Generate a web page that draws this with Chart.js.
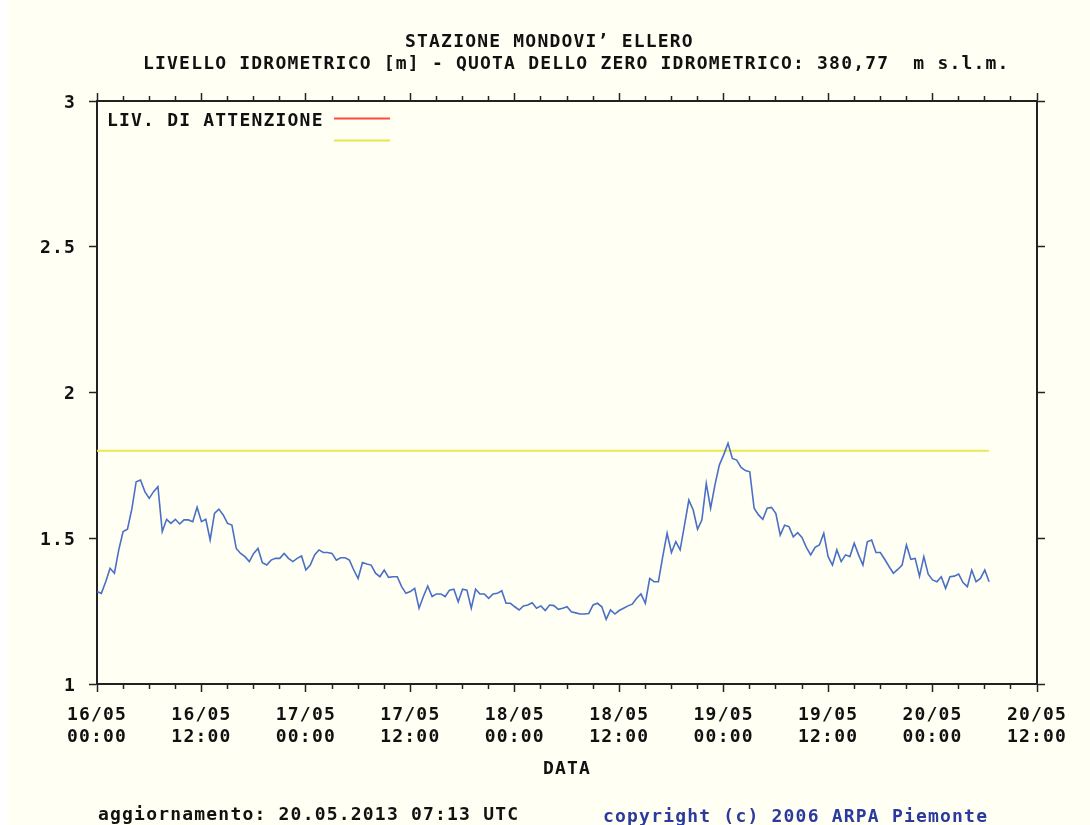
<!DOCTYPE html>
<html>
<head>
<meta charset="utf-8">
<title>STAZIONE MONDOVI’ ELLERO</title>
<script src="https://cdn.jsdelivr.net/npm/chart.js@4/dist/chart.umd.min.js"></script>
<style>
  html, body { margin: 0; padding: 0; background: #ffffff; }
  canvas { display: block; }
</style>
</head>
<body>
<canvas id="chart" width="1090" height="825"></canvas>
<script>
// Water level (m) sampled every 30 minutes, one array per day
const level16May = [
  1.317, 1.311, 1.351, 1.397, 1.380, 1.460, 1.523, 1.531, 1.600, 1.694,
  1.700, 1.660, 1.637, 1.660, 1.677, 1.523, 1.565, 1.551, 1.565, 1.549,
  1.563, 1.563, 1.557, 1.606, 1.557, 1.565, 1.494, 1.585, 1.600, 1.580,
  1.551, 1.545, 1.465, 1.448, 1.437, 1.420, 1.448, 1.465, 1.416, 1.408,
  1.425, 1.431, 1.431, 1.448, 1.431, 1.420, 1.431, 1.439
];
const level17May = [
  1.391, 1.408, 1.443, 1.460, 1.451, 1.451, 1.448, 1.425, 1.433, 1.433,
  1.425, 1.391, 1.362, 1.417, 1.412, 1.408, 1.380, 1.368, 1.391, 1.366,
  1.368, 1.368, 1.334, 1.311, 1.317, 1.328, 1.260, 1.300, 1.336, 1.300,
  1.309, 1.309, 1.300, 1.322, 1.325, 1.282, 1.325, 1.322, 1.260, 1.325,
  1.309, 1.309, 1.294, 1.309, 1.311, 1.320, 1.277, 1.277
];
const level18May = [
  1.265, 1.254, 1.268, 1.271, 1.279, 1.260, 1.268, 1.252, 1.271, 1.269,
  1.256, 1.260, 1.265, 1.248, 1.244, 1.240, 1.240, 1.242, 1.271, 1.277,
  1.265, 1.222, 1.254, 1.240, 1.252, 1.260, 1.268, 1.274, 1.294, 1.309,
  1.277, 1.362, 1.351, 1.351, 1.437, 1.517, 1.451, 1.488, 1.460, 1.545,
  1.631, 1.597, 1.531, 1.563, 1.688, 1.603, 1.683, 1.751
];
const level19May = [
  1.786, 1.826, 1.774, 1.768, 1.743, 1.732, 1.728, 1.603, 1.580, 1.565,
  1.603, 1.606, 1.585, 1.511, 1.545, 1.540, 1.505, 1.519, 1.503, 1.469,
  1.443, 1.469, 1.477, 1.517, 1.437, 1.408, 1.460, 1.420, 1.443, 1.437,
  1.483, 1.443, 1.408, 1.488, 1.494, 1.451, 1.451, 1.428, 1.403, 1.380,
  1.393, 1.408, 1.477, 1.428, 1.431, 1.370, 1.437, 1.377
];
const level20May = [
  1.357, 1.351, 1.368, 1.328, 1.368, 1.370, 1.377, 1.348, 1.334, 1.391,
  1.351, 1.362, 1.391, 1.351
];

// Threshold drawn across the record
const thresholdLevel = 1.80;
const thresholdSpan = [0, 102.5];      // hours from 16/05 00:00

// Axis ticks
const tickDays  = ['16/05', '16/05', '17/05', '17/05', '18/05', '18/05', '19/05', '19/05', '20/05', '20/05'];
const tickTimes = ['00:00', '12:00', '00:00', '12:00', '00:00', '12:00', '00:00', '12:00', '00:00', '12:00'];
const yTickLabels = { 1: '1', 1.5: '1.5', 2: '2', 2.5: '2.5', 3: '3' };

const SAMPLE_HOURS = 0.5;
const FONT_FAMILY = '"DejaVu Sans Mono", "Liberation Mono", monospace';
const CREAM = '#fffff3';
const INK = '#111111';
const AXIS = '#222222';

const levels = [].concat(level16May, level17May, level18May, level19May, level20May);
const levelPoints = levels.map((v, i) => ({ x: i * SAMPLE_HOURS, y: v }));
const thresholdPoints = thresholdSpan.map(h => ({ x: h, y: thresholdLevel }));

const labelFont = { family: FONT_FAMILY, size: 18, weight: 'bold', lineHeight: 22 / 18 };

function isMajor(v) { return Math.abs(v % 12) < 1e-6; }

const gridCommon = {
  display: true,
  drawOnChartArea: false,
  drawTicks: true,
  tickLength: 8,
  tickColor: AXIS,
  tickWidth: 1.5
};
const borderCommon = { display: true, color: AXIS, width: 2 };

const decor = {
  id: 'decor',
  beforeDraw(chart) {
    const ctx = chart.ctx;
    ctx.save();
    ctx.fillStyle = '#ffffff';
    ctx.fillRect(0, 0, chart.width, chart.height);
    ctx.fillStyle = CREAM;
    ctx.fillRect(7, 0, chart.width - 7, chart.height);
    ctx.restore();
    ctx.letterSpacing = '1.2px';
  },
  afterDraw(chart) {
    const ctx = chart.ctx;
    ctx.save();
    ctx.letterSpacing = '1.2px';
    ctx.font = 'bold 18px ' + FONT_FAMILY;
    ctx.textAlign = 'left';
    ctx.textBaseline = 'alphabetic';
    ctx.fillStyle = INK;
    // heading
    ctx.fillText('STAZIONE MONDOVI’ ELLERO', 405, 47);
    ctx.fillText('LIVELLO IDROMETRICO [m] - QUOTA DELLO ZERO IDROMETRICO: 380,77  m s.l.m.', 143, 68.5);
    // legend
    ctx.fillText('LIV. DI ATTENZIONE', 107, 126);
    ctx.lineWidth = 2;
    ctx.strokeStyle = '#ff4a3a';
    ctx.beginPath(); ctx.moveTo(334, 118.5); ctx.lineTo(390, 118.5); ctx.stroke();
    ctx.strokeStyle = '#e6e650';
    ctx.beginPath(); ctx.moveTo(334, 140.5); ctx.lineTo(390, 140.5); ctx.stroke();
    // footer
    ctx.fillStyle = INK;
    ctx.fillText('aggiornamento: 20.05.2013 07:13 UTC', 98, 819.5);
    ctx.fillStyle = '#2b3a9e';
    ctx.fillText('copyright (c) 2006 ARPA Piemonte', 603, 822);
    ctx.restore();
  }
};

new Chart(document.getElementById('chart'), {
  type: 'line',
  data: {
    datasets: [
      {
        label: 'Livello',
        data: levelPoints,
        borderColor: '#4a6fc6',
        borderWidth: 1.6,
        pointRadius: 0,
        tension: 0,
        order: 0,
        xAxisID: 'x',
        yAxisID: 'y'
      },
      {
        label: 'Soglia',
        data: thresholdPoints,
        borderColor: '#e9e955',
        borderWidth: 2,
        pointRadius: 0,
        tension: 0,
        order: 1,
        xAxisID: 'x',
        yAxisID: 'y'
      }
    ]
  },
  options: {
    responsive: false,
    animation: false,
    devicePixelRatio: 1,
    layout: { padding: 0 },
    plugins: {
      legend: { display: false },
      tooltip: { enabled: false },
      title: { display: false }
    },
    scales: {
      x: {
        type: 'linear',
        position: 'bottom',
        min: 0,
        max: 108,
        weight: 0,
        afterFit(s) { s.height = 141; },
        ticks: {
          stepSize: 3,
          autoSkip: false,
          maxRotation: 0,
          minRotation: 0,
          maxTicksLimit: 100,
          padding: 12,
          color: INK,
          font: labelFont,
          callback(v) {
            if (!isMajor(v)) return '';
            const k = Math.round(v / 12);
            return [tickDays[k], tickTimes[k]];
          }
        },
        grid: Object.assign({}, gridCommon, {
          tickBorderDash(ctx) { return isMajor(ctx.tick.value) ? [] : [4, 100]; }
        }),
        border: borderCommon,
        title: {
          display: true,
          text: 'DATA',
          color: INK,
          font: labelFont,
          padding: { top: 0, bottom: 45 }
        }
      },
      x2: {
        type: 'linear',
        position: 'top',
        min: 0,
        max: 108,
        afterFit(s) { s.height = 101; },
        ticks: {
          stepSize: 3,
          autoSkip: false,
          maxRotation: 0,
          maxTicksLimit: 100,
          font: labelFont,
          callback() { return ''; }
        },
        grid: Object.assign({}, gridCommon, {
          tickBorderDash(ctx) { return isMajor(ctx.tick.value) ? [] : [0, 3, 4, 100]; }
        }),
        border: borderCommon
      },
      y: {
        type: 'linear',
        position: 'left',
        min: 1,
        max: 3,
        afterFit(s) { s.width = 97; },
        ticks: {
          stepSize: 0.5,
          padding: 13,
          labelOffset: 2,
          color: INK,
          font: labelFont,
          callback(v) { return yTickLabels[v] !== undefined ? yTickLabels[v] : ''; }
        },
        grid: gridCommon,
        border: borderCommon
      },
      y2: {
        type: 'linear',
        position: 'right',
        min: 1,
        max: 3,
        afterFit(s) { s.width = 53; },
        ticks: {
          stepSize: 0.5,
          font: labelFont,
          callback() { return ''; }
        },
        grid: gridCommon,
        border: borderCommon
      }
    }
  },
  plugins: [decor]
});
</script>
</body>
</html>
